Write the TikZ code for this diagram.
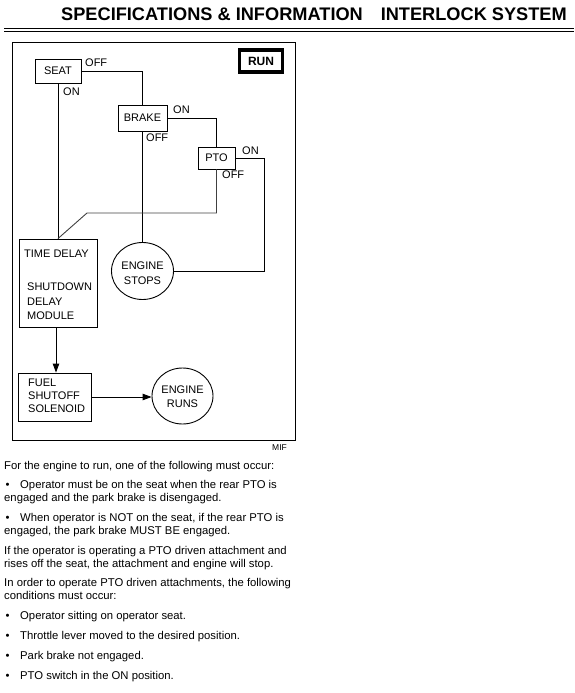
\documentclass[tikz,border=0pt]{standalone}
\usepackage{fontspec}
\setmainfont{Liberation Sans}
\usetikzlibrary{arrows.meta,shapes.geometric}
\begin{document}
\begin{tikzpicture}[x=1pt,y=-1pt,
  lbl/.style={font=\fontsize{11}{13}\selectfont, inner sep=0pt},
  body/.style={font=\fontsize{11.3}{13}\selectfont, inner sep=0pt, anchor=base west},
  box/.style={draw, line width=0.9pt, inner sep=0pt},
  oval/.style={draw, ellipse, line width=0.9pt, inner sep=0pt},
  wire/.style={line width=0.9pt},
  arr/.style={line width=0.9pt, -{Triangle[length=9pt,width=6.5pt]}}]
\useasboundingbox (0,0) rectangle (574,693);
% header
\node[anchor=base west, inner sep=0pt, font=\fontsize{18.2}{20}\selectfont\bfseries] (h1) at (61,21) {SPECIFICATIONS \& INFORMATION};
\node[anchor=base east, inner sep=0pt, font=\fontsize{18.2}{20}\selectfont\bfseries] (h2) at (567,21) {INTERLOCK SYSTEM};
\draw[line width=0.8pt] (4,28) -- (574,28);
\draw[line width=1.2pt] (4,31.5) -- (574,31.5);
% frame
\draw[line width=1pt] (12.5,42.5) rectangle (295,440);
\node[draw, line width=3.2pt, minimum width=43pt, minimum height=22pt, inner sep=0pt, font=\fontsize{12}{14}\selectfont\bfseries] (run) at (261,61) {RUN};
% switches
\node[box, minimum width=46pt, minimum height=24pt] (seat) at (58,71) {};
\node[lbl] (seatT) at (58,70.5) {SEAT};
\node[box, minimum width=49pt, minimum height=26pt] (brake) at (142.5,118) {};
\node[lbl] (brakeT) at (142.5,118) {BRAKE};
\node[box, minimum width=37pt, minimum height=22pt] (pto) at (216.5,158) {};
\node[lbl] (ptoT) at (216.5,158) {PTO};
\node[lbl, anchor=west] (seatOff) at (85,63) {OFF};
\node[lbl, anchor=west] (seatOn) at (63,92) {ON};
\node[lbl, anchor=west] (brakeOn) at (173,110) {ON};
\node[lbl, anchor=west] (brakeOff) at (146,138) {OFF};
\node[lbl, anchor=west] (ptoOn) at (242,151) {ON};
\node[lbl, anchor=west] (ptoOff) at (222,175) {OFF};
% module and outputs
\node[box, minimum width=78pt, minimum height=88pt] (td) at (58,283) {};
\node[lbl, anchor=west] (tdA) at (24,254) {TIME DELAY};
\node[lbl, anchor=west] (tdB) at (27,287) {SHUTDOWN};
\node[lbl, anchor=west] (tdC) at (27,302) {DELAY};
\node[lbl, anchor=west] (tdD) at (27,316) {MODULE};
\node[oval, minimum width=62pt, minimum height=57pt] (stops) at (142.5,271) {};
\node[lbl] (stopsA) at (142.5,266) {ENGINE};
\node[lbl] (stopsB) at (142.5,281) {STOPS};
\node[box, minimum width=73pt, minimum height=48pt] (fuel) at (54.5,397) {};
\node[lbl, anchor=west] (fuelA) at (28,383) {FUEL};
\node[lbl, anchor=west] (fuelB) at (28,396) {SHUTOFF};
\node[lbl, anchor=west] (fuelC) at (28,409) {SOLENOID};
\node[oval, minimum width=61pt, minimum height=56pt] (runs) at (182.5,396) {};
\node[lbl] (runsA) at (182.5,390) {ENGINE};
\node[lbl] (runsB) at (182.5,404) {RUNS};
\node[inner sep=0pt, font=\fontsize{8.5}{10}\selectfont] (mif) at (279.5,448) {MIF};
% wiring
\coordinate (ptoR) at (264,0);
\coordinate (bend) at (87,213);
\draw[wire] (seat.east) -| (brake.north);
\draw[wire] (seat.south) -- (td.north);
\draw[wire] (brake.east) -| (pto.north);
\draw[wire] (brake.south) -- (stops.north);
\draw[wire] (pto.east) -| (ptoR |- stops.east) -- (stops.east);
\draw[wire, black!75] (pto.south) |- (bend) -- (td.north);
\draw[arr] ([xshift=-2pt]td.south) -- ([xshift=1.5pt]fuel.north);
\draw[arr] (fuel.east) -- (fuel.east -| runs.west);
% body text
\node[body] (t1) at (4,469) {For the engine to run, one of the following must occur:};
\node[body] (b1) at (5.5,488) {•};
\node[body] (t2) at (20,488) {Operator must be on the seat when the rear PTO is};
\node[body] (t3) at (4,501) {engaged and the park brake is disengaged.};
\node[body] (b2) at (5.5,521) {•};
\node[body] (t4) at (20,521) {When operator is NOT on the seat, if the rear PTO is};
\node[body] (t5) at (4,534) {engaged, the park brake MUST BE engaged.};
\node[body] (t6) at (4,554) {If the operator is operating a PTO driven attachment and};
\node[body] (t7) at (4,567) {rises off the seat, the attachment and engine will stop.};
\node[body] (t8) at (4,586) {In order to operate PTO driven attachments, the following};
\node[body] (t9) at (4,599) {conditions must occur:};
\node[body] (b3) at (5.5,619) {•};
\node[body] (t10) at (20,619) {Operator sitting on operator seat.};
\node[body] (b4) at (5.5,639) {•};
\node[body] (t11) at (20,639) {Throttle lever moved to the desired position.};
\node[body] (b5) at (5.5,659) {•};
\node[body] (t12) at (20,659) {Park brake not engaged.};
\node[body] (b6) at (5.5,679) {•};
\node[body] (t13) at (20,679) {PTO switch in the ON position.};
\end{tikzpicture}
\end{document}
